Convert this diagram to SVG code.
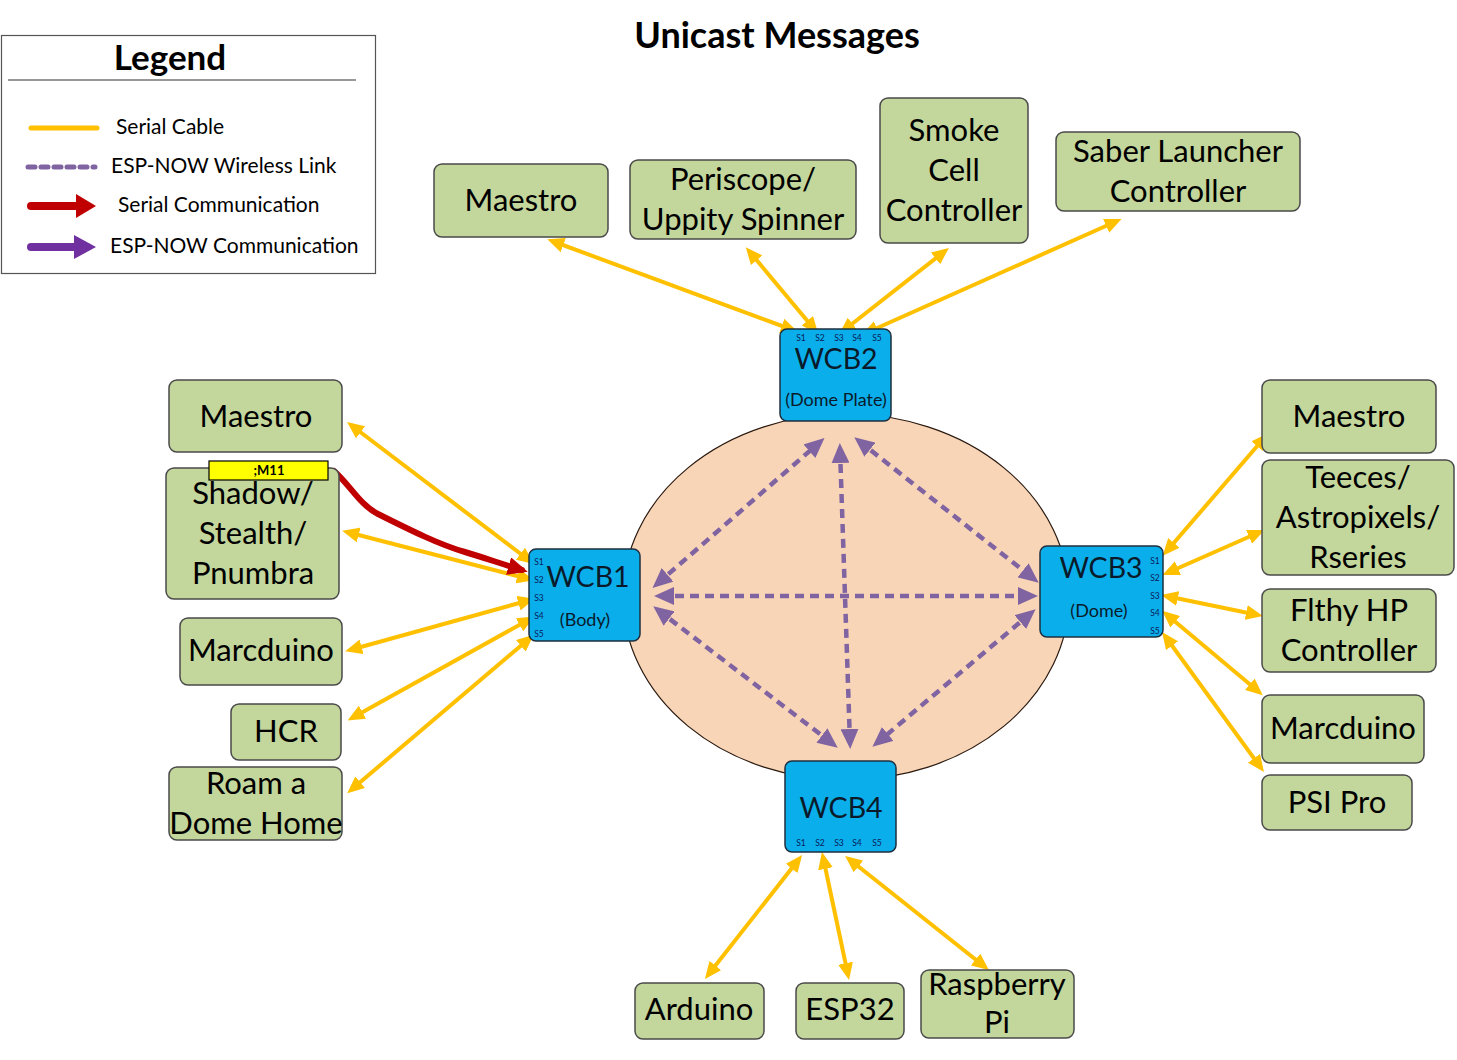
<svg xmlns="http://www.w3.org/2000/svg" width="1457" height="1060" viewBox="0 0 1457 1060">
<style>
text{font-family:Lato,"Open Sans","Liberation Sans",sans-serif;fill:#000;text-anchor:middle}
.g{fill:#C3D69B;stroke:#4A4A4A;stroke-width:1.5}
.gt{font-size:31px}
.w{fill:#0AAEEA;stroke:#1F2F3F;stroke-width:1.5}
.wt{font-size:28.5px;fill:#0A1A2A}
.ws{font-size:18px;fill:#0A1A2A}
.p{font-size:8.5px;fill:#0A1A5A}
.y{stroke:#FFC000;stroke-width:4;fill:none;marker-start:url(#ay);marker-end:url(#ay)}
.v{stroke:#8064A2;stroke-width:4.5;fill:none;stroke-dasharray:9 6;marker-start:url(#av);marker-end:url(#av)}
.lt{font-size:21px;text-anchor:start}
</style>
<defs>
<marker id="ay" viewBox="0 0 17 15" markerWidth="17" markerHeight="15" refX="12" refY="7.5" orient="auto-start-reverse" markerUnits="userSpaceOnUse"><path d="M0,0 L17,7.5 L0,15 z" fill="#FFC000"/></marker>
<marker id="av" viewBox="0 0 20 18" markerWidth="20" markerHeight="18" refX="14" refY="9" orient="auto-start-reverse" markerUnits="userSpaceOnUse"><path d="M0,0 L20,9 L0,18 z" fill="#8064A2"/></marker>
<marker id="ar" viewBox="0 0 20 18" markerWidth="20" markerHeight="18" refX="14" refY="9" orient="auto" markerUnits="userSpaceOnUse"><path d="M0,0 L20,9 L0,18 z" fill="#C00000"/></marker>
</defs>

<text x="777" y="48" style="font-size:36px;font-weight:bold">Unicast Messages</text>

<g id="legend">
<rect x="1.5" y="35.5" width="374" height="238" fill="#fff" stroke="#555" stroke-width="1.2"/>
<text x="170" y="70" style="font-size:35px;font-weight:bold">Legend</text>
<line x1="8" y1="80" x2="356" y2="80" stroke="#333" stroke-width="1.2"/>
<line x1="31" y1="128" x2="97" y2="128" stroke="#FFC000" stroke-width="5" stroke-linecap="round"/>
<text class="lt" x="116" y="134">Serial Cable</text>
<line x1="28" y1="167" x2="95" y2="167" stroke="#8064A2" stroke-width="5" stroke-dasharray="7 6" stroke-linecap="round"/>
<text class="lt" x="111" y="173">ESP-NOW Wireless Link</text>
<line x1="31" y1="206" x2="78" y2="206" stroke="#C00000" stroke-width="8" stroke-linecap="round"/>
<path d="M76,194 L96,206 L76,218 z" fill="#C00000"/>
<text class="lt" x="118" y="212">Serial Communication</text>
<line x1="31" y1="247" x2="76" y2="247" stroke="#7030A0" stroke-width="8" stroke-linecap="round"/>
<path d="M74,235 L96,247 L74,259 z" fill="#7030A0"/>
<text class="lt" x="110" y="253">ESP-NOW Communication</text>
</g>

<g id="wireless-zone">
<ellipse cx="846" cy="597" rx="223" ry="183" fill="#F9D5B8" stroke="#2A1A10" stroke-width="1.2"/>
</g>

<g id="connectors">
<line class="y" x1="552" y1="241" x2="793" y2="330"/>
<line class="y" x1="749" y1="251" x2="815" y2="330"/>
<line class="y" x1="945" y1="251" x2="843" y2="331"/>
<line class="y" x1="1117" y1="221" x2="866" y2="333"/>
<line class="y" x1="351" y1="425" x2="530" y2="561"/>
<line class="y" x1="347" y1="532" x2="529" y2="579"/>
<line class="y" x1="350" y1="650" x2="530" y2="600"/>
<line class="y" x1="352" y1="718" x2="530" y2="619"/>
<line class="y" x1="351" y1="790" x2="530" y2="638"/>
<line class="y" x1="1265" y1="437" x2="1166" y2="552"/>
<line class="y" x1="1260" y1="532" x2="1167" y2="573"/>
<line class="y" x1="1258" y1="615" x2="1166" y2="596"/>
<line class="y" x1="1259" y1="692" x2="1166" y2="614"/>
<line class="y" x1="1261" y1="768" x2="1165" y2="636"/>
<line class="y" x1="708" y1="975" x2="799" y2="859"/>
<line class="y" x1="848" y1="975" x2="823" y2="857"/>
<line class="y" x1="985" y1="967" x2="849" y2="859"/>
<line class="v" x1="657" y1="584" x2="820" y2="442"/>
<line class="v" x1="840" y1="449" x2="850" y2="743"/>
<line class="v" x1="859" y1="441" x2="1034" y2="579"/>
<line class="v" x1="660" y1="596" x2="1032" y2="596"/>
<line class="v" x1="658" y1="610" x2="833" y2="744"/>
<line class="v" x1="1031" y1="613" x2="877" y2="743"/>
<path d="M334,471 C350,485 360,505 378,514 C410,530 440,545 465,552 C485,558 505,565 522,570" fill="none" stroke="#C00000" stroke-width="6" stroke-linecap="round" marker-end="url(#ar)"/>
</g>

<g id="wcb2">
<rect class="w" x="780" y="329" width="111" height="92" rx="7"/>
<text class="wt" x="836" y="369">WCB2</text>
<text class="ws" x="836" y="406">(Dome Plate)</text>
<text class="p" x="801" y="341">S1</text><text class="p" x="820" y="341">S2</text><text class="p" x="839" y="341">S3</text><text class="p" x="857" y="341">S4</text><text class="p" x="877" y="341">S5</text>
</g>
<g id="wcb1">
<rect class="w" x="529" y="549" width="111" height="92" rx="7"/>
<text class="wt" x="588" y="587">WCB1</text>
<text class="ws" x="585" y="626">(Body)</text>
<text class="p" x="539" y="565">S1</text><text class="p" x="539" y="583">S2</text><text class="p" x="539" y="601">S3</text><text class="p" x="539" y="619">S4</text><text class="p" x="539" y="637">S5</text>
</g>
<g id="wcb3">
<rect class="w" x="1040" y="546" width="123" height="91" rx="7"/>
<text class="wt" x="1101" y="578">WCB3</text>
<text class="ws" x="1099" y="617">(Dome)</text>
<text class="p" x="1155" y="564">S1</text><text class="p" x="1155" y="581">S2</text><text class="p" x="1155" y="599">S3</text><text class="p" x="1155" y="616">S4</text><text class="p" x="1155" y="634">S5</text>
</g>
<g id="wcb4">
<rect class="w" x="785" y="761" width="111" height="91" rx="7"/>
<text class="wt" x="841" y="818">WCB4</text>
<text class="p" x="801" y="846">S1</text><text class="p" x="820" y="846">S2</text><text class="p" x="839" y="846">S3</text><text class="p" x="857" y="846">S4</text><text class="p" x="877" y="846">S5</text>
</g>

<g id="top-maestro"><rect class="g" x="434" y="164" width="174" height="73" rx="8"/><text class="gt" x="521" y="211">Maestro</text></g>
<g id="periscope"><rect class="g" x="630" y="160" width="226" height="79" rx="8"/><text class="gt" x="743" y="190">Periscope/</text><text class="gt" x="743" y="230">Uppity Spinner</text></g>
<g id="smoke"><rect class="g" x="880" y="98" width="148" height="145" rx="8"/><text class="gt" x="954" y="141">Smoke</text><text class="gt" x="954" y="181">Cell</text><text class="gt" x="954" y="221">Controller</text></g>
<g id="saber"><rect class="g" x="1056" y="132" width="244" height="79" rx="8"/><text class="gt" x="1178" y="162">Saber Launcher</text><text class="gt" x="1178" y="202">Controller</text></g>

<g id="left-maestro"><rect class="g" x="169" y="380" width="173" height="72" rx="8"/><text class="gt" x="256" y="427">Maestro</text></g>
<g id="shadow"><rect class="g" x="166" y="468" width="173" height="131" rx="8"/><text class="gt" x="253" y="504">Shadow/</text><text class="gt" x="253" y="544">Stealth/</text><text class="gt" x="253" y="584">Pnumbra</text></g>
<g id="left-marcduino"><rect class="g" x="180" y="618" width="162" height="67" rx="8"/><text class="gt" x="261" y="661">Marcduino</text></g>
<g id="hcr"><rect class="g" x="231" y="704" width="110" height="56" rx="8"/><text class="gt" x="286" y="742">HCR</text></g>
<g id="roam"><rect class="g" x="169" y="767" width="173" height="73" rx="8"/><text class="gt" x="256" y="794">Roam a</text><text class="gt" x="256" y="834">Dome Home</text></g>

<g id="m11-label"><rect x="209" y="461" width="119" height="19" fill="#FFFF00" stroke="#000" stroke-width="1.2"/><text x="269" y="475" style="font-size:13px;font-weight:bold">;M11</text></g>

<g id="right-maestro"><rect class="g" x="1262" y="380" width="174" height="73" rx="8"/><text class="gt" x="1349" y="427">Maestro</text></g>
<g id="teeces"><rect class="g" x="1262" y="460" width="192" height="115" rx="8"/><text class="gt" x="1358" y="488">Teeces/</text><text class="gt" x="1358" y="528">Astropixels/</text><text class="gt" x="1358" y="568">Rseries</text></g>
<g id="flthy"><rect class="g" x="1262" y="589" width="174" height="83" rx="8"/><text class="gt" x="1349" y="621">Flthy HP</text><text class="gt" x="1349" y="661">Controller</text></g>
<g id="right-marcduino"><rect class="g" x="1262" y="695" width="162" height="68" rx="8"/><text class="gt" x="1343" y="739">Marcduino</text></g>
<g id="psipro"><rect class="g" x="1262" y="775" width="150" height="55" rx="8"/><text class="gt" x="1337" y="813">PSI Pro</text></g>

<g id="arduino"><rect class="g" x="635" y="983" width="129" height="56" rx="8"/><text class="gt" x="699" y="1020">Arduino</text></g>
<g id="esp32"><rect class="g" x="796" y="983" width="108" height="56" rx="8"/><text class="gt" x="850" y="1020">ESP32</text></g>
<g id="raspberry"><rect class="g" x="921" y="970" width="153" height="68" rx="8"/><text class="gt" x="997" y="995">Raspberry</text><text class="gt" x="997" y="1033">Pi</text></g>
</svg>
